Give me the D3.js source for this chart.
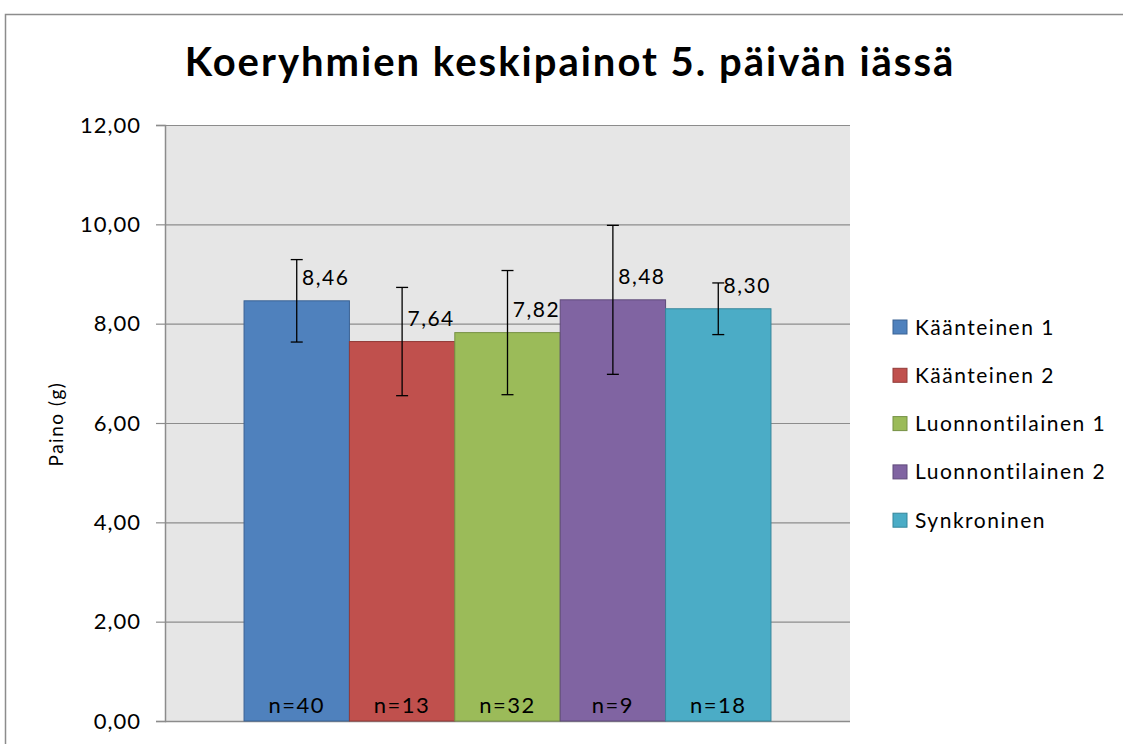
<!DOCTYPE html>
<html>
<head>
<meta charset="utf-8">
<script src="https://cdn.jsdelivr.net/npm/d3@7"></script>
<style>
  html, body { margin: 0; padding: 0; background: #ffffff; }
  svg { display: block; font-family: Lato, "Open Sans", sans-serif; }
</style>
</head>
<body>
<div id="chart"></div>
<script>
// data
const groups = ["Käänteinen 1", "Käänteinen 2", "Luonnontilainen 1", "Luonnontilainen 2", "Synkroninen"];
const means = [8.46, 7.64, 7.82, 8.48, 8.30];
const errors = [0.83, 1.09, 1.25, 1.50, 0.52];
const counts = [40, 13, 32, 9, 18];
const yTicks = [0, 2, 4, 6, 8, 10, 12];
const colors = ["#4F81BD", "#C0504D", "#9BBB59", "#8064A2", "#4BACC6"];
const strokes = ["#3A6294", "#923B39", "#769145", "#5F4A7A", "#35869B"];

const W = 1123, H = 744;
const plot = { left: 165, top: 125, right: 850, bottom: 721 };

const fi = d3.formatLocale({ decimal: ",", thousands: " ", grouping: [3], currency: ["", "€"] });
const fmt = fi.format(".2f");

const svg = d3.select("#chart").append("svg")
  .attr("width", W)
  .attr("height", H);

// outer chart frame
svg.append("rect")
  .attr("x", 5.5).attr("y", 14.5)
  .attr("width", W + 10).attr("height", H + 10)
  .attr("fill", "#ffffff")
  .attr("stroke", "#8c8c8c").attr("stroke-width", 1.5);

// plot background
svg.append("rect")
  .attr("x", plot.left).attr("y", plot.top)
  .attr("width", plot.right - plot.left).attr("height", plot.bottom - plot.top)
  .attr("fill", "#e6e6e6");

const x = d3.scaleBand()
  .domain(groups)
  .range([plot.left, plot.right])
  .paddingInner(0)
  .paddingOuter(0.75);

const y = d3.scaleLinear().domain([0, 12]).range([plot.bottom, plot.top]);

// gridlines
svg.append("g")
  .selectAll("line")
  .data(yTicks.filter(d => d > 0))
  .join("line")
  .attr("x1", plot.left).attr("x2", plot.right)
  .attr("y1", d => y(d) + 0.5).attr("y2", d => y(d) + 0.5)
  .attr("stroke", "#8c8c8c").attr("stroke-width", 1.2);

// y axis
const yAxis = svg.append("g")
  .attr("transform", `translate(${plot.left},0)`)
  .call(d3.axisLeft(y).tickValues(yTicks).tickFormat(fmt).tickSize(9).tickPadding(15));
yAxis.select(".domain").attr("stroke", "#8c8c8c").attr("stroke-width", 1.5);
yAxis.selectAll(".tick line").attr("stroke", "#8c8c8c").attr("stroke-width", 1.2);
yAxis.selectAll(".tick text")
  .attr("font-family", "Lato, sans-serif")
  .attr("font-size", 22)
  .attr("letter-spacing", 1)
  .attr("fill", "#000");

// bottom axis line
svg.append("line")
  .attr("x1", plot.left).attr("x2", plot.right)
  .attr("y1", plot.bottom + 0.5).attr("y2", plot.bottom + 0.5)
  .attr("stroke", "#8c8c8c").attr("stroke-width", 1.5);

// bars
svg.append("g")
  .selectAll("rect")
  .data(groups)
  .join("rect")
  .attr("x", d => x(d))
  .attr("y", (d, i) => y(means[i]))
  .attr("width", x.bandwidth())
  .attr("height", (d, i) => y(0) - y(means[i]))
  .attr("fill", (d, i) => colors[i])
  .attr("stroke", (d, i) => strokes[i])
  .attr("stroke-width", 1);

// error bars
const eb = svg.append("g")
  .selectAll("g")
  .data(groups)
  .join("g")
  .attr("stroke", "#000")
  .attr("stroke-width", 1.3);
eb.append("line")
  .attr("x1", d => x(d) + x.bandwidth() / 2).attr("x2", d => x(d) + x.bandwidth() / 2)
  .attr("y1", (d, i) => y(means[i] + errors[i])).attr("y2", (d, i) => y(means[i] - errors[i]));
eb.append("line")
  .attr("x1", d => x(d) + x.bandwidth() / 2 - 6).attr("x2", d => x(d) + x.bandwidth() / 2 + 6)
  .attr("y1", (d, i) => y(means[i] + errors[i])).attr("y2", (d, i) => y(means[i] + errors[i]));
eb.append("line")
  .attr("x1", d => x(d) + x.bandwidth() / 2 - 6).attr("x2", d => x(d) + x.bandwidth() / 2 + 6)
  .attr("y1", (d, i) => y(means[i] - errors[i])).attr("y2", (d, i) => y(means[i] - errors[i]));

// value labels
svg.append("g")
  .selectAll("text")
  .data(groups)
  .join("text")
  .attr("x", d => x(d) + x.bandwidth() / 2 + 29)
  .attr("y", (d, i) => y(means[i]) - 16)
  .attr("text-anchor", "middle")
  .attr("font-size", 21)
  .attr("letter-spacing", 1.5)
  .attr("fill", "#000")
  .text((d, i) => fmt(means[i]));

// n labels
svg.append("g")
  .selectAll("text")
  .data(groups)
  .join("text")
  .attr("x", d => x(d) + x.bandwidth() / 2)
  .attr("y", y(0) - 8)
  .attr("text-anchor", "middle")
  .attr("font-size", 22)
  .attr("letter-spacing", 1.5)
  .attr("fill", "#000")
  .text((d, i) => "n=" + counts[i]);

// title
svg.append("text")
  .attr("x", 570)
  .attr("y", 76)
  .attr("text-anchor", "middle")
  .attr("font-size", 40)
  .attr("font-weight", "bold")
  .attr("letter-spacing", 2)
  .attr("fill", "#000")
  .text("Koeryhmien keskipainot 5. päivän iässä");

// y axis title
svg.append("text")
  .attr("transform", `translate(56,424) rotate(-90)`)
  .attr("dy", "0.35em")
  .attr("text-anchor", "middle")
  .attr("font-size", 19)
  .attr("letter-spacing", 1.5)
  .attr("fill", "#000")
  .text("Paino (g)");

// legend
const legend = svg.append("g")
  .selectAll("g")
  .data(groups)
  .join("g")
  .attr("transform", (d, i) => `translate(893,${327 + i * 48.3})`);
legend.append("rect")
  .attr("x", 0).attr("y", -7)
  .attr("width", 14).attr("height", 14)
  .attr("fill", (d, i) => colors[i])
  .attr("stroke", (d, i) => strokes[i]);
legend.append("text")
  .attr("x", 22)
  .attr("dy", "0.36em")
  .attr("font-size", 21)
  .attr("letter-spacing", 1.5)
  .attr("fill", "#000")
  .text(d => d);
</script>
</body>
</html>
